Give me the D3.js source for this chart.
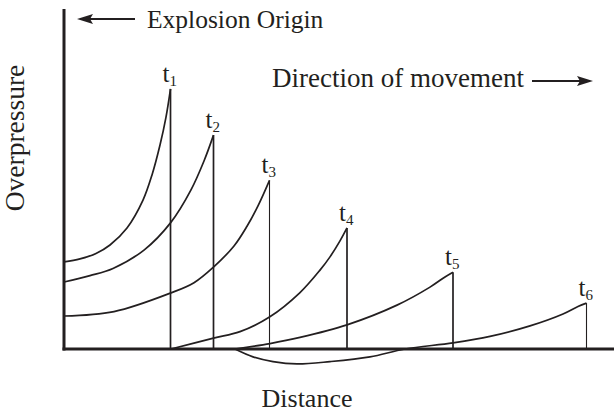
<!DOCTYPE html>
<html>
<head>
<meta charset="utf-8">
<script src="https://cdn.jsdelivr.net/npm/d3@7"></script>
<style>
  body { margin: 0; background: #fff; }
  svg { display: block; }
  text { font-family: "Liberation Serif", "Times New Roman", serif; fill: #231f20; }
</style>
</head>
<body>
<svg id="chart" width="614" height="414"></svg>
<script>
// Blast-wave overpressure profiles at successive times t1..t6.
// Each profile: [distance, overpressure] points, ending at the shock front.
const waveNames = ["1", "2", "3", "4", "5", "6"];
const wave1 = [[0, 25.6], [3.2, 26.5], [6.4, 28.1], [9.2, 30.6], [12.6, 35.6], [15.8, 43.8],
               [17.6, 51.2], [19.2, 60.0], [20.4, 68.2], [21.3, 76.5]];
const wave2 = [[0, 19.7], [5.2, 21.6], [9.8, 23.7], [16, 29.1], [21.3, 37.1], [25.4, 46.8],
               [28, 55.3], [29.9, 62.9]];
const wave3 = [[0, 9.7], [10, 11.0], [21.4, 16.5], [26, 19.5], [29.9, 24.1], [34, 30.3],
               [36.6, 36.1], [38.8, 42.1], [41.1, 49.6]];
const wave4 = [[21.4, 0], [29.9, 3.2], [35.2, 5.1], [41.1, 9.4], [47.2, 16.6], [51.2, 23.2],
               [53.2, 27.1], [55.2, 31.8], [56.6, 35.6]];
const wave5 = [[34.2, 0], [41.2, 1.6], [47.2, 3.4], [56.6, 7.1], [66.6, 12.9], [73.2, 18.2],
               [76.2, 21.2], [77.8, 22.6]];
const wave6 = [[34.2, 0], [37.8, -2.3], [41.8, -3.7], [46.6, -4.4], [53.2, -3.7], [61.2, -2.3],
               [68.2, 0], [77.8, 1.8], [85.2, 3.7], [93.2, 6.8], [99.8, 10.3], [102.8, 12.5], [104.5, 13.5]];
const waves = [wave1, wave2, wave3, wave4, wave5, wave6];

const axisTitles = { x: "Distance", y: "Overpressure" };
const notes = { origin: "Explosion Origin", motion: "Direction of movement" };

const ink = "#231f20";
const svg = d3.select("#chart");

const x = d3.scaleLinear().domain([0, 110]).range([64, 614]);
const y = d3.scaleLinear().domain([0, 100]).range([349, 9]);

const line = d3.line()
  .x(d => x(d[0]))
  .y(d => y(d[1]))
  .curve(d3.curveCatmullRom.alpha(0.5));

// Pressure profiles
svg.append("g")
  .selectAll("path")
  .data(waves)
  .join("path")
  .attr("d", line)
  .attr("fill", "none")
  .attr("stroke", ink)
  .attr("stroke-width", 1.7);

// Shock fronts: vertical drop from peak to ambient
const peaks = waves.map(w => w[w.length - 1]);
svg.append("g")
  .selectAll("line")
  .data(peaks)
  .join("line")
  .attr("x1", d => x(d[0]))
  .attr("x2", d => x(d[0]))
  .attr("y1", d => y(d[1]))
  .attr("y2", y(0))
  .attr("stroke", ink)
  .attr("stroke-width", (d, i) => (i === 2 || i === 5) ? 1.1 : 1.7);

// Time labels t1..t6
const lbl = svg.append("g")
  .selectAll("text")
  .data(peaks)
  .join("text")
  .attr("x", d => x(d[0]) - 8)
  .attr("y", d => y(d[1]) - 7)
  .attr("font-size", 25);
lbl.append("tspan").text("t");
lbl.append("tspan")
  .attr("font-size", 15)
  .attr("dy", 4)
  .text((d, i) => waveNames[i]);

// Axes
svg.append("line")
  .attr("x1", x(0)).attr("x2", x(0))
  .attr("y1", y(100)).attr("y2", y(0) + 1.5)
  .attr("stroke", ink).attr("stroke-width", 3);
svg.append("line")
  .attr("x1", x(0) - 1.5).attr("x2", x(110))
  .attr("y1", y(0)).attr("y2", y(0))
  .attr("stroke", ink).attr("stroke-width", 3);

// Axis titles
svg.append("text")
  .attr("x", 307).attr("y", 407)
  .attr("text-anchor", "middle")
  .attr("font-size", 26)
  .text(axisTitles.x);
svg.append("text")
  .attr("transform", "translate(24,138) rotate(-90)")
  .attr("text-anchor", "middle")
  .attr("font-size", 27.5)
  .text(axisTitles.y);

// Arrows with notes
function arrow(x1, x2, yy) {
  const dir = Math.sign(x2 - x1);
  svg.append("line")
    .attr("x1", x1).attr("x2", x2 - dir * 10)
    .attr("y1", yy).attr("y2", yy)
    .attr("stroke", ink).attr("stroke-width", 2);
  svg.append("path")
    .attr("d", `M${x2},${yy} L${x2 - dir * 16},${yy - 5} L${x2 - dir * 13},${yy} L${x2 - dir * 16},${yy + 5} Z`)
    .attr("fill", ink);
}
arrow(135, 77, 19);
svg.append("text")
  .attr("x", 147).attr("y", 28)
  .attr("font-size", 25.5)
  .text(notes.origin);

arrow(532, 593, 81);
svg.append("text")
  .attr("x", 272).attr("y", 87)
  .attr("font-size", 27)
  .text(notes.motion);
</script>
</body>
</html>
